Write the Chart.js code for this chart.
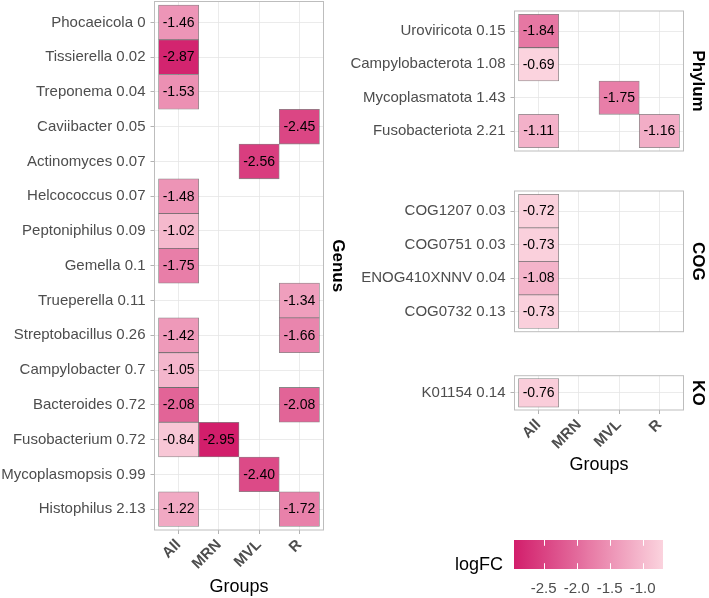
<!DOCTYPE html>
<html>
<head>
<meta charset="utf-8">
<script src="https://cdn.jsdelivr.net/npm/chart.js@4.4.1/dist/chart.umd.min.js"></script>
<style>
  body { margin: 0; background: #fff; width: 709px; height: 598px; position: relative; overflow: hidden; }
  canvas { position: absolute; }
</style>
</head>
<body>
<canvas id="genus" width="360" height="598" style="left:0;top:0"></canvas>
<canvas id="phylum" width="509" height="170" style="left:200px;top:0"></canvas>
<canvas id="cog" width="509" height="180" style="left:200px;top:170px"></canvas>
<canvas id="ko" width="509" height="140" style="left:200px;top:360px"></canvas>
<canvas id="legend" width="269" height="78" style="left:440px;top:520px"></canvas>
<script>
const groups = ["All", "MRN", "MVL", "R"];

// Genus panel
const genusNames = ["Phocaeicola 0", "Tissierella 0.02", "Treponema 0.04", "Caviibacter 0.05",
  "Actinomyces 0.07", "Helcococcus 0.07", "Peptoniphilus 0.09", "Gemella 0.1", "Trueperella 0.11",
  "Streptobacillus 0.26", "Campylobacter 0.7", "Bacteroides 0.72", "Fusobacterium 0.72",
  "Mycoplasmopsis 0.99", "Histophilus 2.13"];
const genusAll = [-1.46, -2.87, -1.53, null, null, -1.48, -1.02, -1.75, null, -1.42, -1.05, -2.08, -0.84, null, -1.22];
const genusMRN = [null, null, null, null, null, null, null, null, null, null, null, null, -2.95, null, null];
const genusMVL = [null, null, null, null, -2.56, null, null, null, null, null, null, null, null, -2.40, null];
const genusR   = [null, null, null, -2.45, null, null, null, null, -1.34, -1.66, null, -2.08, null, null, -1.72];

// Phylum panel
const phylumNames = ["Uroviricota 0.15", "Campylobacterota 1.08", "Mycoplasmatota 1.43", "Fusobacteriota 2.21"];
const phylumAll = [-1.84, -0.69, null, -1.11];
const phylumMRN = [null, null, null, null];
const phylumMVL = [null, null, -1.75, null];
const phylumR   = [null, null, null, -1.16];

// COG panel
const cogNames = ["COG1207 0.03", "COG0751 0.03", "ENOG410XNNV 0.04", "COG0732 0.13"];
const cogAll = [-0.72, -0.73, -1.08, -0.73];
const cogMRN = [null, null, null, null];
const cogMVL = [null, null, null, null];
const cogR   = [null, null, null, null];

// KO panel
const koNames = ["K01154 0.14"];
const koAll = [-0.76];
const koMRN = [null];
const koMVL = [null];
const koR   = [null];

const legendTicks = [-2.5, -2.0, -1.5, -1.0];

const FONT = "'Liberation Sans', Arial, sans-serif";
const allValues = [].concat(genusAll, genusMRN, genusMVL, genusR, phylumAll, phylumMVL, phylumR, cogAll, koAll)
  .filter(v => v !== null);
const vmin = Math.min(...allValues);
const vmax = Math.max(...allValues);
const lowColor = [210, 30, 107];
const highColor = [251, 211, 222];

function colorFor(v) {
  const t = (v - vmin) / (vmax - vmin);
  const c = lowColor.map((l, k) => Math.round(l + (highColor[k] - l) * t));
  return "rgb(" + c.join(",") + ")";
}

// labels inside tiles, panel border and facet strip
const tilePlugin = {
  id: "tiles",
  afterDatasetsDraw(chart, args, opts) {
    const ctx = chart.ctx;
    const a = chart.chartArea;
    const meta = chart.getDatasetMeta(0);
    const data = chart.data.datasets[0].data;
    ctx.save();
    ctx.font = "14px " + FONT;
    ctx.fillStyle = "#000";
    ctx.textAlign = "center";
    ctx.textBaseline = "middle";
    meta.data.forEach((bar, i) => {
      ctx.fillText(data[i].v.toFixed(2), bar.x, (bar.y + bar.base) / 2 + 0.5);
    });
    ctx.strokeStyle = "#BDBDBD";
    ctx.lineWidth = 1;
    ctx.strokeRect(a.left, a.top, a.right - a.left, a.bottom - a.top);
    ctx.translate(opts.stripX, (a.top + a.bottom) / 2);
    ctx.rotate(Math.PI / 2);
    ctx.font = "bold 17px " + FONT;
    ctx.fillText(opts.strip, 0, 0);
    ctx.restore();
  }
};

// p: extra left space of the canvas, right padding, top padding, x-axis height,
// show x labels, title bottom padding
function heatmap(id, names, cols, strip, p) {
  const cells = [];
  cols.forEach((vals, gi) => {
    vals.forEach((v, ri) => {
      if (v !== null) cells.push({ x: gi, y: [ri - 0.5, ri + 0.5], v: v });
    });
  });
  return new Chart(document.getElementById(id), {
    type: "bar",
    data: {
      datasets: [{
        data: cells,
        backgroundColor: c => (c.raw ? colorFor(c.raw.v) : "transparent"),
        borderColor: "rgba(70,70,70,0.65)",
        borderWidth: 0.8,
        borderSkipped: false,
        barPercentage: 1,
        categoryPercentage: 1
      }]
    },
    options: {
      responsive: false,
      animation: false,
      events: [],
      layout: { padding: { top: p.top, right: p.right, left: 0, bottom: 0 } },
      plugins: {
        legend: { display: false },
        tooltip: { enabled: false },
        tiles: { strip: strip, stripX: 338 + p.left }
      },
      scales: {
        x: {
          type: "linear",
          bounds: "data",
          offset: false,
          beginAtZero: false,
          min: -0.6,
          max: groups.length - 0.4,
          afterBuildTicks: ax => { ax.ticks = groups.map((g, i) => ({ value: i })); },
          afterFit: s => { s.height = p.axis; s.paddingLeft = 0; s.paddingRight = 0; },
          border: { display: false },
          grid: { offset: false, color: "#E6E6E6", lineWidth: 0.8, drawTicks: p.showX, tickColor: "#B3B3B3", tickLength: 4, tickWidth: 1 },
          ticks: {
            display: p.showX,
            autoSkip: false,
            minRotation: 45,
            maxRotation: 45,
            padding: 2,
            color: "#4D4D4D",
            font: { family: FONT, size: 15, weight: "bold" },
            callback: v => groups[v]
          },
          title: {
            display: p.showX,
            text: "Groups",
            color: "#000",
            font: { family: FONT, size: 18 },
            padding: { top: 0, bottom: p.titlePad || 0 }
          }
        },
        y: {
          type: "linear",
          bounds: "data",
          beginAtZero: false,
          reverse: true,
          min: -0.6,
          max: names.length - 0.4,
          afterBuildTicks: ax => { ax.ticks = names.map((n, i) => ({ value: i })); },
          afterFit: s => { s.width = 154.5 + p.left; s.paddingTop = 0; s.paddingBottom = 0; },
          border: { display: false },
          grid: { color: "#E6E6E6", lineWidth: 0.8, tickColor: "#B3B3B3", tickLength: 4, tickWidth: 1 },
          ticks: {
            autoSkip: false,
            padding: 5,
            color: "#4D4D4D",
            font: { family: FONT, size: 15 },
            callback: v => names[v]
          }
        }
      }
    },
    plugins: [tilePlugin]
  });
}

heatmap("genus", genusNames, [genusAll, genusMRN, genusMVL, genusR], "Genus",
  { left: 0, right: 36.5, top: 1.5, axis: 68, showX: true, titlePad: 0 });
heatmap("phylum", phylumNames, [phylumAll, phylumMRN, phylumMVL, phylumR], "Phylum",
  { left: 160, right: 25.5, top: 11, axis: 19, showX: false });
heatmap("cog", cogNames, [cogAll, cogMRN, cogMVL, cogR], "COG",
  { left: 160, right: 25.5, top: 21, axis: 18.3, showX: false });
heatmap("ko", koNames, [koAll, koMRN, koMVL, koR], "KO",
  { left: 160, right: 25.5, top: 15.7, axis: 90, showX: true, titlePad: 24 });

// colour bar legend
const colorbarPlugin = {
  id: "colorbar",
  beforeDatasetsDraw(chart) {
    const ctx = chart.ctx;
    const a = chart.chartArea;
    const x = chart.scales.x;
    const grad = ctx.createLinearGradient(a.left, 0, a.right, 0);
    for (let k = 0; k <= 20; k++) {
      grad.addColorStop(k / 20, colorFor(x.getValueForPixel(a.left + (a.right - a.left) * k / 20)));
    }
    ctx.save();
    ctx.fillStyle = grad;
    ctx.fillRect(a.left, a.top, a.right - a.left, a.bottom - a.top);
    const tl = (a.bottom - a.top) / 5;
    ctx.strokeStyle = "#fff";
    ctx.lineWidth = 1;
    legendTicks.forEach(v => {
      const px = Math.round(x.getPixelForValue(v)) + 0.5;
      ctx.beginPath();
      ctx.moveTo(px, a.top); ctx.lineTo(px, a.top + tl);
      ctx.moveTo(px, a.bottom - tl); ctx.lineTo(px, a.bottom);
      ctx.stroke();
    });
    ctx.fillStyle = "#000";
    ctx.font = "18px " + FONT;
    ctx.textAlign = "left";
    ctx.textBaseline = "middle";
    ctx.fillText("logFC", 15, 45);
    ctx.restore();
  }
};

new Chart(document.getElementById("legend"), {
  type: "scatter",
  data: { datasets: [] },
  options: {
    responsive: false,
    animation: false,
    events: [],
    layout: { padding: { top: 20, left: 74, right: 46, bottom: 0 } },
    plugins: { legend: { display: false }, tooltip: { enabled: false } },
    scales: {
      x: {
        type: "linear",
        bounds: "data",
        min: vmin,
        max: vmax,
        afterBuildTicks: ax => { ax.ticks = legendTicks.map(v => ({ value: v })); },
        afterFit: s => { s.height = 29; s.paddingLeft = 0; s.paddingRight = 0; },
        border: { display: false },
        grid: { display: false },
        ticks: {
          padding: 3,
          color: "#4D4D4D",
          font: { family: FONT, size: 15 },
          callback: v => v.toFixed(1)
        }
      },
      y: { display: false }
    }
  },
  plugins: [colorbarPlugin]
});
</script>
</body>
</html>
